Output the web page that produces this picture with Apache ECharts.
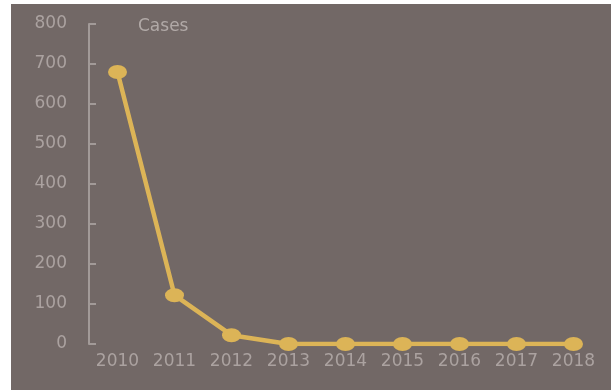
<!DOCTYPE html>
<html>
<head>
<meta charset="utf-8">
<script src="https://cdn.jsdelivr.net/npm/echarts@6/dist/echarts.min.js"></script>
<style>
  html, body { margin: 0; padding: 0; background: #ffffff; }
  #main-chart { position: absolute; left: 11px; top: 4px; width: 600px; height: 386px; }
</style>
</head>
<body>
<div id="main-chart"></div>
<script>
// data
const years = ['2010', '2011', '2012', '2013', '2014', '2015', '2016', '2017', '2018'];
const cases = [680, 122, 22, 0, 0, 0, 0, 0, 0];
const yTicks = [0, 100, 200, 300, 400, 500, 600, 700, 800];

const labelColor = '#aba2a0';
const gold = '#dcb457';

const chartDom = document.getElementById('main-chart');
const myChart = echarts.init(chartDom);

const option = {
    backgroundColor: '#726866',
    animation: false,
    grid: { left: 78, right: 9, top: 20, bottom: 46 },
    graphic: [
        {
            type: 'text',
            left: 127,
            top: 14,
            style: { text: 'Cases', fill: '#b1a9a7', font: '17px "DejaVu Sans"' }
        }
    ],
    xAxis: {
        type: 'category',
        data: years,
        boundaryGap: true,
        axisLine: { show: false },
        axisTick: { show: false },
        axisLabel: { color: labelColor, fontSize: 17, fontFamily: 'DejaVu Sans', margin: 9 }
    },
    yAxis: {
        type: 'value',
        min: yTicks[0],
        max: yTicks[yTicks.length - 1],
        interval: 100,
        splitLine: { show: false },
        axisLine: { show: true, lineStyle: { color: '#a29a98', width: 2 } },
        axisTick: { show: true, inside: true, length: 7, lineStyle: { color: '#a29a98', width: 2 } },
        axisLabel: { color: labelColor, fontSize: 17, fontFamily: 'DejaVu Sans', margin: 22 }
    },
    series: [
        {
            name: 'Cases',
            type: 'line',
            data: cases,
            symbol: 'circle',
            symbolSize: [19, 14],
            lineStyle: { color: gold, width: 4.5 },
            itemStyle: { color: gold }
        }
    ]
};

myChart.setOption(option);
</script>
</body>
</html>
